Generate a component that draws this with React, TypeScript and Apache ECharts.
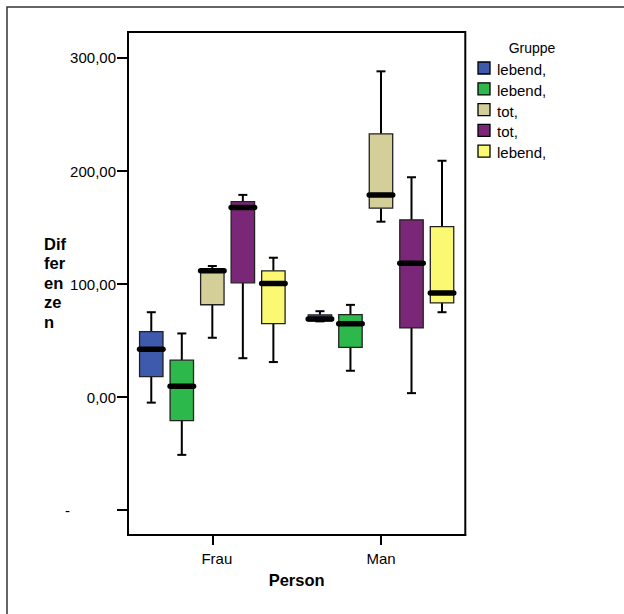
import React, { useEffect, useRef } from "react";
import * as echarts from "echarts";

// ---- data ----
const CATEGORIES = ["Frau", "Man"];
const GROUP_NAMES = ["lebend,", "lebend,", "tot,", "tot,", "lebend,"];
const GROUP_COLORS = ["#3D5AAC", "#2DB84B", "#D4CF99", "#7B2777", "#FBF872"];
// per category: [min, q1, median, q3, max]
const BLUE = [
  [-4.9, 18.1, 42.4, 58.0, 75.1],
  [67.0, 67.5, 69.0, 72.8, 76.0],
];
const GREEN = [
  [-51.1, -20.9, 9.7, 32.7, 56.3],
  [23.3, 44.0, 64.8, 72.9, 81.6],
];
const TAN = [
  [52.5, 81.7, 111.7, 112.5, 116.0],
  [155.2, 167.1, 178.7, 232.9, 288.2],
];
const PURPLE = [
  [34.4, 101.1, 167.7, 172.9, 178.9],
  [3.5, 61.2, 118.4, 156.8, 194.5],
];
const YELLOW = [
  [31.0, 65.0, 100.5, 111.7, 123.3],
  [75.1, 83.3, 92.2, 150.8, 209.1],
];
const GROUP_DATA = [BLUE, GREEN, TAN, PURPLE, YELLOW];
const Y_TICKS = [-100, 0, 100, 200, 300];
const Y_MIN = -122;
const Y_MAX = 323;
const LEGEND_TITLE = "Gruppe";
const X_TITLE = "Person";
const Y_TITLE = "Dif\nfer\nen\nze\nn";

const FONT = 'Arial, "Liberation Sans", sans-serif';
const STEP = 0.181; // offset between groups as fraction of band
const BOXW = 0.139; // box width as fraction of band

function makeSeries(k: number) {
  return {
    type: "custom",
    name: GROUP_NAMES[k],
    encode: { x: 0, y: [1, 2, 3, 4, 5] },
    data: GROUP_DATA[k].map((d, i) => [i, ...d]),
    renderItem: (params: any, api: any) => {
      const cat = api.value(0);
      const band = api.size([1, 0])[0];
      const cx = api.coord([cat, 0])[0] + (k - 2) * band * STEP;
      const w = band * BOXW;
      const yv = (j: number) => api.coord([cat, api.value(j)])[1];
      const yMin = yv(1);
      const yQ1 = yv(2);
      const yMed = yv(3);
      const yQ3 = yv(4);
      const yMax = yv(5);
      const wStyle = { stroke: "#000", lineWidth: 2 };
      const cap = 4.5;
      return {
        type: "group",
        children: [
          { type: "line", shape: { x1: cx, y1: yMax, x2: cx, y2: yQ3 }, style: wStyle },
          { type: "line", shape: { x1: cx - cap, y1: yMax, x2: cx + cap, y2: yMax }, style: wStyle },
          { type: "line", shape: { x1: cx, y1: yQ1, x2: cx, y2: yMin }, style: wStyle },
          { type: "line", shape: { x1: cx - cap, y1: yMin, x2: cx + cap, y2: yMin }, style: wStyle },
          {
            type: "rect",
            shape: { x: cx - w / 2, y: yQ3, width: w, height: yQ1 - yQ3 },
            style: { fill: GROUP_COLORS[k], stroke: "#222", lineWidth: 1.3 },
          },
          {
            type: "line",
            shape: { x1: cx - w / 2, y1: yMed, x2: cx + w / 2, y2: yMed },
            style: { stroke: "#000", lineWidth: 5.5, lineCap: "round" },
          },
        ],
      };
    },
  };
}

function legendGraphics() {
  const els: any[] = [
    {
      type: "text",
      style: {
        text: LEGEND_TITLE,
        x: 532,
        y: 48,
        align: "center",
        verticalAlign: "middle",
        fontSize: 14,
        fontFamily: FONT,
        fill: "#000",
      },
    },
  ];
  GROUP_NAMES.forEach((n, i) => {
    const y = 62 + i * 20.8;
    els.push({
      type: "rect",
      shape: { x: 478, y, width: 12, height: 12 },
      style: { fill: GROUP_COLORS[i], stroke: "#000", lineWidth: 1.3 },
    });
    els.push({
      type: "text",
      style: {
        text: n,
        x: 497,
        y: y + 7.5,
        align: "left",
        verticalAlign: "middle",
        fontSize: 15,
        fontFamily: FONT,
        fill: "#000",
      },
    });
  });
  return els;
}

export default function App() {
  const ref = useRef<HTMLDivElement>(null);
  useEffect(() => {
    if (!ref.current) return;
    const chart = echarts.init(ref.current, null, { renderer: "svg" });
    chart.setOption({
      animation: false,
      backgroundColor: "#fff",
      textStyle: { fontFamily: FONT },
      grid: {
        left: 128,
        top: 32,
        right: 158.7,
        bottom: 79,
        show: true,
        borderColor: "#000",
        borderWidth: 2,
        backgroundColor: "transparent",
        containLabel: false,
      },
      xAxis: {
        type: "category",
        data: CATEGORIES,
        name: X_TITLE,
        nameLocation: "middle",
        nameGap: 36,
        nameTextStyle: { fontWeight: "bold", fontSize: 16.5, color: "#000", fontFamily: FONT },
        axisLine: { show: true, onZero: false, lineStyle: { color: "#000", width: 2 } },
        axisTick: { show: true, alignWithLabel: true, length: 10, lineStyle: { color: "#000", width: 2 } },
        axisLabel: {
          margin: 16,
          fontSize: 15,
          color: "#000",
          fontFamily: FONT,
          formatter: (v: string) => (v === "Frau" ? "{f|" + v + "}" : v),
          rich: { f: { padding: [0, 0, 0, 9], fontSize: 15, color: "#000", fontFamily: FONT } },
        },
        splitLine: { show: false },
      },
      yAxis: {
        type: "value",
        min: Y_MIN,
        max: Y_MAX,
        splitNumber: 4,
        axisLine: { show: true, onZero: false, lineStyle: { color: "#000", width: 2 } },
        axisTick: {
          show: true,
          inside: false,
          length: 11,
          lineStyle: { color: "#000", width: 2 },
          customValues: Y_TICKS,
        },
        axisLabel: {
          customValues: Y_TICKS,
          margin: 12,
          fontSize: 15,
          color: "#000",
          fontFamily: FONT,
          formatter: (v: number) =>
            v < 0 ? "{m|-}" : v.toFixed(2).replace(".", ","),
          rich: { m: { width: 51, align: "left", fontSize: 15, color: "#000", fontFamily: FONT } },
        },
        splitLine: { show: false },
      },
      graphic: [
        {
          type: "rect",
          shape: { x: 7, y: 7, width: 800, height: 800 },
          style: { fill: "none", stroke: "#333", lineWidth: 1.5 },
          silent: true,
        },
        {
          type: "text",
          style: {
            text: Y_TITLE,
            x: 44,
            y: 234,
            align: "left",
            verticalAlign: "top",
            fontSize: 16.5,
            fontWeight: "bold",
            lineHeight: 19.5,
            fontFamily: FONT,
            fill: "#000",
          },
        },
        ...legendGraphics(),
      ],
      series: GROUP_NAMES.map((_, k) => makeSeries(k)),
    });
    return () => chart.dispose();
  }, []);
  return (
    <div
      ref={ref}
      style={{ position: "fixed", left: 0, top: 0, width: 624, height: 614, background: "#fff" }}
    />
  );
}
